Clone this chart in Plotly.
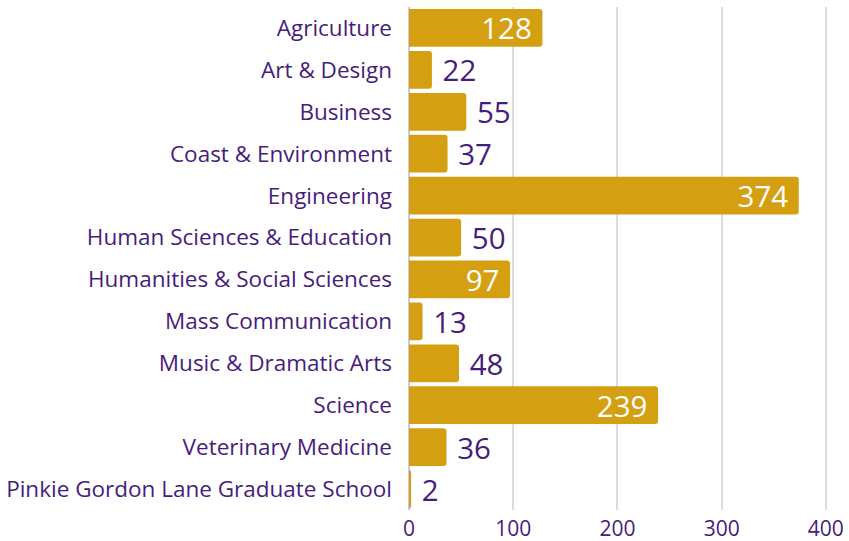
import plotly.graph_objects as go

categories = ["Agriculture", "Art & Design", "Business", "Coast & Environment", "Engineering",
              "Human Sciences & Education", "Humanities & Social Sciences", "Mass Communication",
              "Music & Dramatic Arts", "Science", "Veterinary Medicine",
              "Pinkie Gordon Lane Graduate School"]
values = [128, 22, 55, 37, 374, 50, 97, 13, 48, 239, 36, 2]
tick_vals = [0, 100, 200, 300, 400]

PURPLE = "#461D7C"
GOLD = "#D4A012"
FONT = "Open Sans"
NB = "\u00a0"

positions = ["inside" if v >= 90 else "outside" for v in values]
labels = [(f"{v}{NB}" if p == "inside" else f"{NB}{v}") for v, p in zip(values, positions)]

fig = go.Figure(go.Bar(
    x=values, y=categories, orientation="h",
    marker=dict(color=GOLD, line=dict(width=0), cornerradius=3),
    text=labels,
    textposition=positions,
    textangle=0,
    insidetextanchor="end",
    constraintext="none",
    cliponaxis=False,
    hoverinfo="skip",
    insidetextfont=dict(color="white", size=29.5, family=FONT),
    outsidetextfont=dict(color=PURPLE, size=29.5, family=FONT),
))

fig.update_layout(
    width=849, height=541,
    margin=dict(l=409, r=20, t=7, b=31),
    plot_bgcolor="white", paper_bgcolor="white",
    bargap=0.1,
    showlegend=False,
    font=dict(family=FONT, color=PURPLE, size=20),
    uniformtext=dict(mode=False),
)
fig.update_xaxes(range=[0, 403], tickvals=tick_vals, showgrid=True, gridcolor="#DDD9E6",
                 gridwidth=1.5, zeroline=True, zerolinecolor="#CFC6E0", zerolinewidth=1.5,
                 tickfont=dict(size=21, color=PURPLE, family=FONT), showline=False, ticks="",
                 ticklabelstandoff=4, automargin=False)
fig.update_yaxes(autorange="reversed", tickfont=dict(size=22.5, color=PURPLE, family=FONT),
                 ticklabelstandoff=16, showgrid=False, ticks="", automargin=False)

fig.write_html("out.html", config={"displayModeBar": False},
               post_script="document.body.style.margin='0';document.body.style.overflow='hidden';")
